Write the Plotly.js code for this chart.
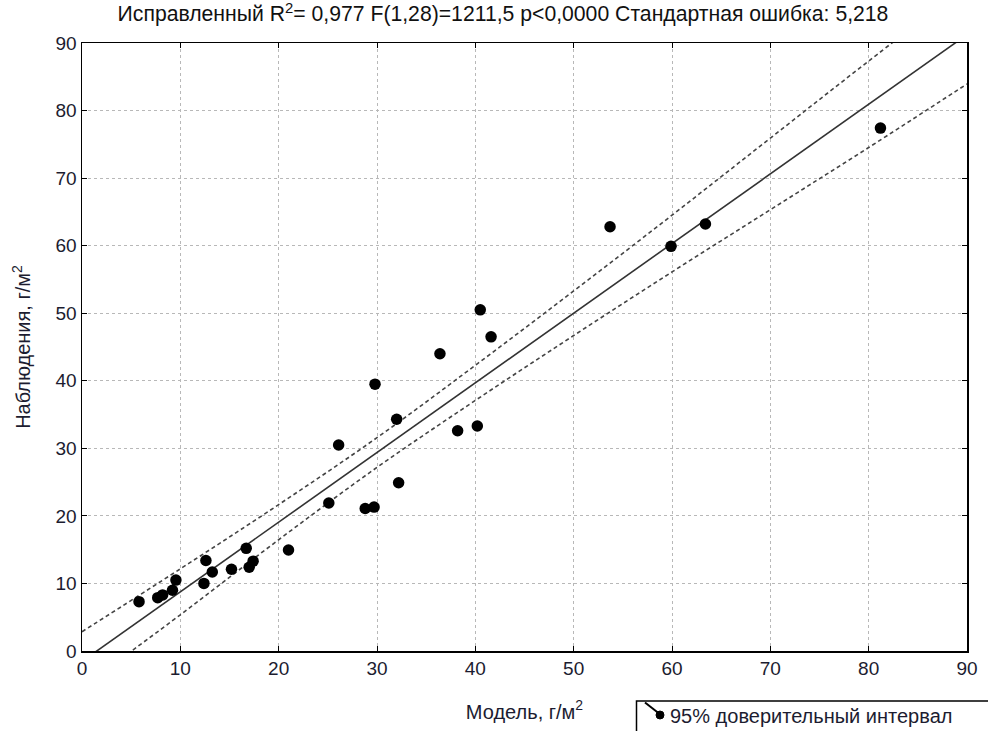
<!DOCTYPE html>
<html>
<head>
<meta charset="utf-8">
<script src="https://cdn.plot.ly/plotly-3.0.1.min.js"></script>
<style>html,body{margin:0;padding:0;background:#fff;}#chart{width:988px;height:731px;}</style>
</head>
<body>
<div id="chart"></div>
<script>
// Observed points (model, observation), g/m^2
const modelX = [5.8, 7.7, 8.2, 9.2, 9.55, 12.4, 12.6, 13.25, 15.2, 16.7, 17.0, 17.4, 21.0,
                25.1, 26.1, 28.8, 29.7, 29.8, 32.0, 32.2, 36.4, 38.2, 40.2, 40.5, 41.6,
                53.7, 59.9, 63.4, 81.2];
const obsY   = [7.3, 7.9, 8.3, 9.0, 10.5, 10.0, 13.4, 11.7, 12.1, 15.2, 12.4, 13.3, 14.95,
                21.9, 30.5, 21.1, 21.3, 39.5, 34.3, 24.9, 44.0, 32.6, 33.3, 50.5, 46.5,
                62.8, 59.9, 63.2, 77.4];

// Regression line
const fitX = [0, 90];
const fitY = [-1.55, 91.24];

// 95% confidence band
const bandX = [0, 10, 20, 30, 40, 50, 60, 70, 80, 90];
const bandUpper = [2.85, 12.16, 21.67, 31.58, 42.29, 53.3, 64.51, 75.92, 87.33, 98.54];
const bandLower = [-5.4, 5.36, 16.47, 27.18, 37.09, 46.7, 56.11, 65.32, 74.53, 83.94];

const tickVals = [0, 10, 20, 30, 40, 50, 60, 70, 80, 90];
const legendLabel = "95% доверительный интервал";

const font = "Liberation Sans, Arial, sans-serif";
const txtColor = "#1c1c30";

// plot area in pixels (for converting legend-box decoration to paper coords)
const W = 988, H = 731, ML = 82, MR = 21, MT = 43, MB = 80;
const PW = W - ML - MR, PH = H - MT - MB;
const px = v => (v - ML) / PW;
const py = v => (H - MB - v) / PH;

const traces = [
  {x: bandX, y: bandUpper, mode: "lines", line: {color: "#444", width: 1.6, dash: "4px,3px", shape: "spline"}, showlegend: false, hoverinfo: "skip"},
  {x: bandX, y: bandLower, mode: "lines", line: {color: "#444", width: 1.6, dash: "4px,3px", shape: "spline"}, showlegend: false, hoverinfo: "skip"},
  {x: fitX, y: fitY, mode: "lines", line: {color: "#333", width: 1.6}, showlegend: false},
  {x: modelX, y: obsY, mode: "markers", marker: {color: "#000", size: 11.5, symbol: "circle"}, showlegend: false}
];

const axisCommon = {
  range: [0, 90],
  tickvals: tickVals,
  ticks: "inside",
  ticklen: 5,
  tickcolor: "#000",
  showline: true,
  linecolor: "#000",
  linewidth: 1.5,
  mirror: "ticks",
  showgrid: true,
  gridcolor: "#b8b8b8",
  griddash: "dot",
  gridwidth: 1,
  zeroline: false,
  tickfont: {family: font, size: 19, color: txtColor},
  fixedrange: true
};

const boxPath = "M" + px(636.5) + "," + py(732) + " L" + px(636.5) + "," + py(701) + " L" + px(990) + "," + py(701);

const layout = {
  width: W, height: H,
  margin: {l: ML, r: MR, t: MT, b: MB, autoexpand: false},
  paper_bgcolor: "#fff",
  plot_bgcolor: "#fff",
  showlegend: false,
  title: {
    text: "Исправленный R<sup>2</sup>= 0,977 F(1,28)=1211,5 p&lt;0,0000 Стандартная ошибка: 5,218",
    font: {family: font, size: 21.2, color: "#111"},
    x: 503 / W, xanchor: "center", xref: "container", yref: "container", y: 1 - 14 / H, yanchor: "middle"
  },
  xaxis: Object.assign({}, axisCommon, {
    title: {text: "Модель, г/м<sup>2</sup>", font: {family: font, size: 20, color: txtColor}, standoff: 26}
  }),
  yaxis: Object.assign({}, axisCommon, {
    title: {text: "Наблюдения, г/м<sup>2</sup>", font: {family: font, size: 20, color: txtColor}, standoff: 19}
  }),
  shapes: [
    {type: "path", xref: "paper", yref: "paper", path: boxPath,
     line: {color: "#000", width: 1.5}, layer: "above"},
    {type: "line", xref: "paper", yref: "paper", x0: px(645), y0: py(702.5), x1: px(661), y1: py(715),
     line: {color: "#000", width: 2}, layer: "above"},
    {type: "circle", xref: "paper", yref: "paper", x0: px(656), x1: px(664), y0: py(719), y1: py(711),
     line: {color: "#000", width: 1}, fillcolor: "#000", layer: "above"}
  ],
  annotations: [
    {text: legendLabel, xref: "paper", yref: "paper", x: px(668), y: py(716), xanchor: "left", yanchor: "middle",
     showarrow: false, font: {family: font, size: 20, color: txtColor}}
  ]
};

Plotly.newPlot("chart", traces, layout, {displayModeBar: false, staticPlot: true});
</script>
</body>
</html>
